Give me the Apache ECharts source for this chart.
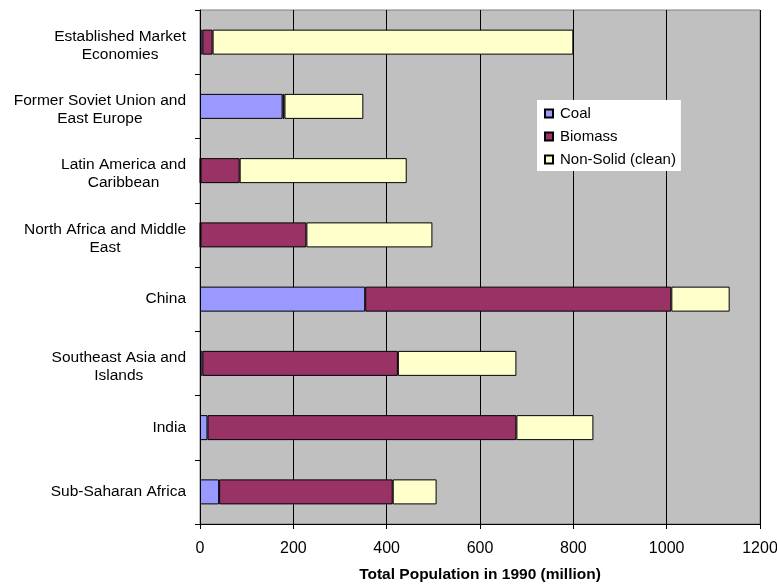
<!DOCTYPE html>
<html>
<head>
<meta charset="utf-8">
<script src="https://cdn.jsdelivr.net/npm/echarts@6/dist/echarts.min.js"></script>
<style>
  html, body { margin: 0; padding: 0; background: #ffffff; }
  #chart { width: 777px; height: 587px; }
</style>
</head>
<body>
<div id="chart"></div>
<script>
// Household fuel use by region, population in 1990 (million)
const regions = [
  'Established Market\nEconomies',
  'Former Soviet Union and\nEast Europe',
  'Latin America and\nCaribbean',
  'North Africa and Middle\nEast',
  'China',
  'Southeast Asia and\nIslands',
  'India',
  'Sub-Saharan Africa'
];
const coal     = [5, 177, 1, 1, 354, 5, 16, 41];
const biomass  = [22, 4, 84, 227, 656, 419, 662, 372];
const nonSolid = [773, 169, 358, 270, 125, 254, 165, 94];
const xTicks = { min: 0, max: 1200, interval: 200 };

const font = 'Liberation Sans, Arial, sans-serif';

function barSeries(name, data, color) {
  return {
    name: name,
    type: 'bar',
    stack: 'total',
    data: data,
    barWidth: 25,
    itemStyle: { color: color, borderColor: '#000000', borderWidth: 1 },
    emphasis: { disabled: true }
  };
}

// Two-line category labels sit slightly lower than their band centre:
// a thin spacer line on top nudges the block down.
function regionLabel(v) {
  const lines = v.split('\n');
  const body = lines.map(line => '{c|' + line + '}').join('\n');
  return lines.length === 1 ? body : '{g| }\n' + body;
}

const chart = echarts.init(document.getElementById('chart'), null, { renderer: 'canvas' });
chart.setOption({
  animation: false,
  textStyle: { fontFamily: font },
  grid: {
    left: 200, right: 17, top: 10, bottom: 63,
    outerBoundsMode: 'none',
    containLabel: false,
    show: true, backgroundColor: '#c0c0c0', borderColor: '#808080', borderWidth: 1
  },
  legend: {
    orient: 'vertical',
    left: 537, top: 100,
    backgroundColor: '#ffffff',
    padding: [6, 5, 4, 7],
    itemGap: 8,
    itemWidth: 8, itemHeight: 8,
    icon: 'rect',
    textStyle: { fontFamily: font, fontSize: 15, color: '#000000', padding: [0, 0, 0, 2] },
    data: ['Coal', 'Biomass', 'Non-Solid (clean)']
  },
  xAxis: {
    type: 'value',
    min: xTicks.min, max: xTicks.max, interval: xTicks.interval,
    name: 'Total Population in 1990 (million)',
    nameLocation: 'middle',
    nameGap: 43,
    nameTextStyle: { fontFamily: font, fontSize: 15.5, fontWeight: 'bold', color: '#000000' },
    axisLine: { show: true, lineStyle: { color: '#000000', width: 1 } },
    axisTick: { show: true, length: 5, lineStyle: { color: '#000000' } },
    axisLabel: {
      fontFamily: font, fontSize: 16, color: '#000000', margin: 17,
      formatter: v => String(v)
    },
    splitLine: { show: true, lineStyle: { color: '#000000', width: 1 } }
  },
  yAxis: {
    type: 'category',
    inverse: true,
    data: regions,
    axisLine: { show: true, lineStyle: { color: '#000000', width: 1 } },
    axisTick: { show: true, length: 5, lineStyle: { color: '#000000' } },
    axisLabel: {
      margin: 14,
      formatter: regionLabel,
      rich: {
        c: { fontFamily: font, fontSize: 15.5, color: '#000000', lineHeight: 18, align: 'center' },
        g: { fontFamily: font, fontSize: 2, lineHeight: 7 }
      }
    },
    splitLine: { show: false }
  },
  series: [
    barSeries('Coal', coal, '#9999ff'),
    barSeries('Biomass', biomass, '#993366'),
    barSeries('Non-Solid (clean)', nonSolid, '#ffffcc')
  ]
});
</script>
</body>
</html>
